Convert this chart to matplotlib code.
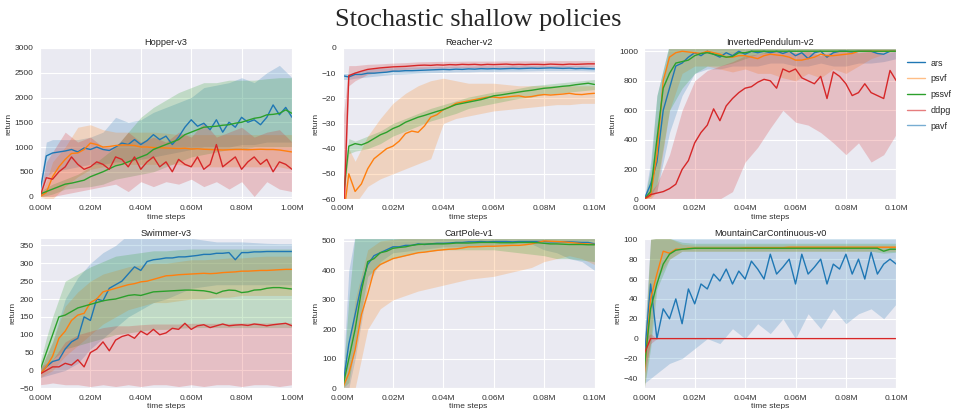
import numpy as np
import matplotlib
matplotlib.use("Agg")
import matplotlib.pyplot as plt
from matplotlib.lines import Line2D
from matplotlib.ticker import FuncFormatter
import seaborn as sns

sns.set_style("darkgrid")
plt.rcParams["font.family"] = ["Liberation Sans", "DejaVu Sans"]

# colours of the methods
c_blue = "#1f77b4"
c_orange = "#ff7f0e"
c_green = "#2ca02c"
c_red = "#d62728"

legend_labels = ["ars", "psvf", "pssvf", "ddpg", "pavf"]

# line grid: 41 points, band grid: denser at the start (fractions of the x range)
line_frac = np.linspace(0, 1, 41)
band_frac = np.array([0, 0.025] + [0.05 * i for i in range(1, 21)])

# ---------------- Hopper-v3 ----------------
hopper_pavf = [100, 820, 880, 900, 920, 950, 900, 980, 950, 1000, 950, 930, 1000, 1080, 1050, 1150, 1050, 1130, 1250, 1150,
               1220, 1050, 1200, 1400, 1550, 1420, 1480, 1350, 1550, 1300, 1500, 1400, 1600, 1500, 1550, 1450, 1600, 1850, 1650, 1800, 1600]
hopper_psvf = [0, 80, 400, 600, 750, 870, 880, 950, 1080, 1050, 1000, 1010, 1030, 1040, 1040, 1030, 1000, 1000, 990, 985,
               980, 975, 970, 975, 960, 965, 955, 950, 945, 940, 945, 950, 950, 945, 950, 955, 950, 950, 940, 920, 900]
hopper_pssvf = [50, 100, 150, 200, 250, 270, 300, 330, 400, 450, 500, 560, 620, 650, 700, 750, 800, 850, 950, 1000,
                1050, 1100, 1150, 1250, 1300, 1350, 1400, 1410, 1420, 1440, 1450, 1480, 1500, 1540, 1580, 1600, 1650, 1660, 1680, 1750, 1680]
hopper_ddpg = [0, 380, 350, 500, 600, 800, 650, 550, 600, 700, 650, 550, 800, 750, 600, 800, 550, 700, 800, 600,
               700, 500, 750, 650, 600, 800, 550, 650, 1050, 600, 700, 800, 550, 700, 800, 650, 750, 500, 700, 650, 550]
hopper_pavf_lo = [0, 400, 500, 550, 600, 650, 650, 700, 700, 750, 800, 850, 900, 950, 1000, 1000, 1000, 1050, 1050, 1100, 1100, 1100]
hopper_pavf_hi = [200, 1100, 1150, 1150, 1150, 1200, 1300, 1600, 1500, 1550, 1700, 1800, 1900, 2000, 2200, 2250, 2300, 2400, 2300, 2500, 2650, 2400]
hopper_psvf_lo = [0, -50, -50, 200, 400, 550, 600, 650, 650, 650, 650, 650, 650, 600, 600, 600, 600, 600, 600, 600, 600, 550]
hopper_psvf_hi = [50, 300, 700, 1000, 1400, 1450, 1350, 1300, 1300, 1300, 1300, 1280, 1250, 1250, 1250, 1250, 1250, 1250, 1250, 1250, 1250, 1250]
hopper_pssvf_lo = [0, 20, 50, 150, 180, 200, 250, 350, 400, 450, 500, 600, 700, 800, 850, 900, 950, 950, 1000, 1000, 1000, 1000]
hopper_pssvf_hi = [100, 180, 250, 350, 450, 600, 800, 1000, 1300, 1600, 1800, 1950, 2100, 2200, 2300, 2300, 2350, 2350, 2350, 2380, 2400, 2400]
hopper_ddpg_lo = [0, 0, 0, 50, 100, 150, 200, 250, 100, 300, 200, 300, 250, 350, 200, 300, 150, 300, 0, 300, 150, 100]
hopper_ddpg_hi = [0, 700, 900, 1300, 1100, 1200, 1000, 1000, 1300, 1100, 1200, 1100, 1300, 1200, 1500, 1200, 1300, 1400, 1200, 1300, 1350, 1100]

# ---------------- Reacher-v2 ----------------
reacher_pavf = [-11, -11.5, -10.5, -10.5, -10, -10, -9.8, -9.6, -9.2, -9.2, -9, -9, -8.9, -8.8, -8.7, -8.6, -8.5, -8.6, -8.4, -8.5,
                -8.3, -8.4, -8.2, -8.3, -8.2, -8.3, -8.2, -8.1, -8.2, -8.1, -8.0, -8.1, -8.0, -7.9, -8.0, -8.1, -8.0, -8.2, -8.1, -8.2, -8.3]
reacher_psvf = [-70, -50, -57, -54, -48, -44, -42, -40, -39, -37, -34, -33, -33.5, -31, -27.5, -26.5, -24.5, -23.5, -22, -21.5,
                -21, -20.5, -20, -19.5, -19.5, -19.8, -19.5, -19.2, -19, -19.5, -19.3, -18.8, -18.5, -18.7, -18.5, -18.3, -18, -18.4, -18.5, -18.2, -18]
reacher_pssvf = [-62, -39, -38, -38.5, -37.5, -36, -34.5, -33.5, -32, -31, -29.5, -28.5, -27.5, -26.8, -26, -25.2, -24.5, -23.5, -22.5, -22,
                 -21.5, -21, -20.5, -19.8, -19, -18.7, -18.3, -17.9, -17.5, -17.1, -16.8, -16.4, -16, -15.8, -15.5, -15.2, -15, -14.6, -14.3, -14, -14.5]
reacher_ddpg = [-80, -11, -10, -9.2, -8.5, -8.2, -7.9, -7.7, -7.5, -7.4, -7.3, -7.1, -6.9, -6.8, -6.9, -6.7, -6.8, -6.6, -6.7, -6.5,
                -6.6, -6.5, -6.7, -6.5, -6.6, -6.5, -6.4, -6.6, -6.5, -6.6, -6.5, -6.5, -6.6, -6.4, -6.5, -6.6, -6.4, -6.5, -6.4, -6.3, -6.3]
reacher_pavf_lo = [-12.5, -12.5, -12, -11.5, -11, -10.5, -10.3, -10, -9.8, -9.7, -9.5, -9.5, -9.3, -9.3, -9.2, -9.2, -9.1, -9, -9, -9, -9, -9.2]
reacher_pavf_hi = [-10, -10, -9.5, -8.5, -8, -7.8, -7.6, -7.5, -7.4, -7.3, -7.2, -7.2, -7.1, -7.1, -7, -7, -7, -7, -7, -7, -7, -7.2]
reacher_psvf_lo = [-75, -62, -62, -55, -52, -50, -48, -46, -44, -30, -28, -27, -26, -25, -24.5, -24, -23.5, -23, -22.5, -22.5, -22, -22]
reacher_psvf_hi = [-60, -40, -45, -35, -28, -22, -18, -15, -13, -12, -13, -14, -14, -14, -14.5, -15, -15, -15, -15, -15, -15, -15]
reacher_pssvf_lo = [-62, -42, -41, -40, -38, -35, -33, -31, -29, -27.5, -26, -24, -23, -22, -21, -20, -19.5, -18.5, -18, -17.5, -17, -16.5]
reacher_pssvf_hi = [-55, -36, -37, -35, -33, -30, -28, -26, -24, -22.5, -21, -19.5, -18.5, -17.5, -17, -16, -15, -14.5, -14, -13.5, -13, -12.5]
reacher_ddpg_lo = [-90, -15, -13, -10.5, -9.5, -9, -8.5, -8.2, -8, -8, -7.8, -7.8, -7.8, -7.7, -7.7, -7.7, -7.6, -7.6, -7.6, -7.5, -7.5, -7.4]
reacher_ddpg_hi = [-30, -7, -7, -6.5, -6.3, -6, -5.8, -5.5, -5.4, -5.3, -5.3, -5.2, -5.2, -5.2, -5.1, -5.1, -5.1, -5.1, -5, -5, -5, -5]

# ---------------- InvertedPendulum-v2 ----------------
ip_pavf = [0, 100, 250, 600, 750, 900, 920, 960, 990, 970, 1000, 980, 960, 990, 970, 1000, 980, 1000, 990, 1000,
           990, 1000, 985, 1000, 970, 990, 950, 990, 1000, 960, 990, 1000, 1000, 995, 1000, 1000, 1000, 985, 980, 1000, 1000]
ip_psvf = [0, 20, 300, 800, 960, 990, 1000, 995, 990, 985, 1000, 990, 980, 960, 960, 970, 970, 960, 950, 970,
           980, 975, 970, 960, 940, 940, 950, 960, 980, 970, 970, 975, 980, 985, 1000, 1000, 1000, 1000, 1000, 1000, 1000]
ip_pssvf = [0, 50, 400, 750, 850, 920, 930, 940, 970, 985, 990, 980, 970, 960, 965, 990, 990, 1000, 1000, 1000,
            1000, 1000, 1000, 1000, 1000, 1000, 1000, 1000, 1000, 1000, 1000, 1000, 1000, 1000, 1000, 1000, 1000, 1000, 1000, 1000, 1000]
ip_ddpg = [0, 30, 40, 50, 70, 100, 200, 260, 380, 450, 500, 610, 530, 630, 680, 720, 750, 760, 790, 810,
           800, 750, 880, 860, 880, 820, 800, 780, 830, 680, 860, 830, 780, 700, 720, 780, 720, 700, 680, 870, 800]
ip_pavf_lo = [0, 20, 50, 450, 700, 850, 880, 880, 900, 900, 900, 920, 920, 900, 900, 920, 900, 900, 920, 920, 930, 950]
ip_pavf_hi = [0, 250, 700, 1050, 1050, 1050, 1050, 1030, 1030, 1030, 1030, 1030, 1030, 1030, 1030, 1030, 1030, 1030, 1030, 1030, 1030, 1030]
ip_psvf_lo = [0, 0, 50, 600, 850, 900, 900, 880, 860, 880, 850, 850, 820, 800, 850, 820, 880, 850, 900, 950, 980, 1000]
ip_psvf_hi = [0, 100, 500, 1050, 1050, 1050, 1050, 1050, 1050, 1050, 1050, 1050, 1050, 1050, 1050, 1050, 1050, 1050, 1050, 1050, 1050, 1050]
ip_pssvf_lo = [0, 20, 100, 600, 750, 850, 900, 900, 920, 950, 980, 990, 1000, 1000, 1000, 1000, 1000, 1000, 1000, 1000, 1000, 1000]
ip_pssvf_hi = [0, 200, 700, 1050, 1050, 1050, 1050, 1050, 1050, 1050, 1050, 1050, 1050, 1050, 1050, 1050, 1050, 1050, 1050, 1050, 1050, 1050]
ip_ddpg_lo = [0, 0, 0, 0, 0, 0, 0, 0, 50, 250, 350, 480, 600, 520, 500, 450, 380, 300, 380, 250, 300, 440]
ip_ddpg_hi = [0, 50, 100, 300, 600, 800, 870, 900, 930, 970, 980, 1000, 1000, 990, 1000, 970, 1000, 1000, 990, 1000, 980, 1000]

# ---------------- Swimmer-v3 ----------------
sw_pavf = [-10, 10, 25, 30, 60, 80, 90, 150, 140, 200, 195, 230, 240, 250, 270, 290, 280, 305, 310, 312,
           315, 315, 318, 318, 320, 322, 325, 325, 328, 328, 330, 310, 330, 330, 332, 332, 333, 333, 333, 333, 333]
sw_psvf = [-10, 10, 40, 90, 110, 140, 155, 160, 190, 200, 220, 225, 230, 235, 240, 243, 248, 250, 255, 260,
           265, 266, 268, 269, 270, 271, 272, 271, 272, 274, 275, 276, 278, 278, 279, 280, 280, 281, 282, 283, 283]
sw_pssvf = [0, 50, 100, 150, 155, 165, 175, 180, 185, 190, 195, 198, 200, 205, 210, 212, 210, 215, 220, 221,
            222, 223, 224, 225, 225, 224, 223, 220, 215, 222, 225, 224, 218, 220, 225, 226, 230, 232, 232, 230, 228]
sw_ddpg = [-10, 0, 10, 10, 20, 15, 30, 10, 50, 60, 80, 55, 85, 95, 100, 90, 110, 100, 115, 100,
           105, 118, 115, 132, 115, 125, 128, 120, 125, 130, 125, 127, 128, 126, 130, 128, 125, 128, 130, 132, 125]
sw_pavf_lo = [-20, -15, -10, 0, 20, 60, 90, 120, 150, 170, 190, 200, 215, 230, 235, 240, 240, 240, 240, 240, 240, 240]
sw_pavf_hi = [0, 40, 80, 200, 260, 300, 330, 350, 380, 380, 380, 380, 375, 370, 365, 360, 360, 360, 358, 356, 355, 355]
sw_psvf_lo = [-20, -10, 0, 40, 70, 100, 130, 150, 170, 180, 190, 190, 195, 200, 200, 205, 205, 210, 210, 210, 210, 210]
sw_psvf_hi = [0, 40, 80, 180, 220, 250, 270, 280, 290, 295, 300, 300, 305, 310, 310, 312, 315, 315, 318, 320, 320, 320]
sw_pssvf_lo = [-10, 10, 30, 60, 70, 80, 90, 100, 105, 110, 115, 115, 118, 120, 120, 120, 120, 120, 120, 120, 120, 120]
sw_pssvf_hi = [20, 90, 150, 250, 270, 290, 305, 320, 325, 330, 335, 335, 338, 340, 340, 340, 340, 340, 340, 340, 340, 340]
sw_ddpg_lo = [-40, -38, -35, -40, -40, -45, -40, -45, -40, -45, -40, -40, -45, -40, -45, -40, -40, -45, -40, -40, -45, -40]
sw_ddpg_hi = [10, 20, 30, 80, 100, 110, 120, 125, 125, 128, 130, 130, 130, 132, 132, 132, 132, 133, 133, 133, 133, 133]

# ---------------- CartPole-v1 ----------------
cp_pavf = [0, 150, 250, 350, 420, 450, 460, 470, 480, 480, 485, 485, 490, 488, 490, 492, 492, 493, 495, 495,
           497, 497, 498, 497, 498, 498, 498, 497, 498, 498, 498, 498, 498, 497, 497, 497, 497, 496, 495, 495, 490]
cp_psvf = [0, 50, 130, 250, 320, 400, 420, 430, 440, 445, 450, 455, 460, 462, 465, 468, 470, 472, 473, 476,
           480, 480, 481, 482, 482, 483, 484, 485, 485, 487, 490, 495, 500, 499, 498, 497, 495, 493, 491, 490, 488]
cp_pssvf = [0, 100, 200, 330, 430, 440, 460, 465, 475, 478, 480, 485, 488, 489, 490, 490, 490, 491, 493, 493,
            493, 494, 495, 495, 495, 494, 494, 494, 495, 495, 495, 494, 492, 490, 490, 489, 488, 488, 488, 487, 487]
cp_pavf_lo = [0, 0, 100, 350, 430, 460, 465, 470, 475, 480, 480, 480, 485, 485, 488, 490, 490, 470, 460, 440, 430, 400]
cp_pavf_hi = [10, 400, 520, 520, 520, 520, 520, 520, 520, 520, 520, 520, 520, 520, 520, 520, 520, 520, 520, 520, 520, 520]
cp_psvf_lo = [0, 0, 0, 200, 270, 300, 315, 330, 340, 350, 360, 370, 375, 380, 390, 400, 410, 430, 440, 450, 440, 420]
cp_psvf_hi = [10, 120, 300, 470, 500, 505, 510, 510, 510, 510, 510, 510, 510, 510, 510, 510, 510, 510, 510, 510, 510, 510]
cp_pssvf_lo = [0, 20, 150, 380, 420, 440, 450, 460, 465, 470, 470, 470, 470, 470, 465, 460, 455, 450, 440, 440, 435, 430]
cp_pssvf_hi = [10, 300, 520, 520, 520, 520, 520, 520, 520, 520, 520, 520, 520, 520, 520, 520, 520, 520, 520, 520, 520, 520]

# ---------------- MountainCarContinuous-v0 ----------------
mc_pavf = [-20, 55, 0, 30, 20, 40, 15, 50, 35, 55, 50, 65, 58, 70, 55, 68, 60, 78, 70, 60,
           85, 65, 72, 80, 55, 85, 65, 72, 80, 55, 75, 70, 85, 65, 80, 60, 87, 65, 75, 80, 75]
mc_psvf = [-35, 40, 65, 88, 86, 90, 90, 91, 91, 91, 91, 91, 91, 91, 91, 91, 91.5, 91.5, 91.5, 91.5,
           91.5, 91.5, 91.5, 92, 92, 92, 92, 92, 92, 92, 92, 92, 92, 92, 92, 92, 92, 92, 92, 92, 92]
mc_pssvf = [-30, 30, 55, 75, 85, 89, 90, 90.5, 91, 91, 91, 91, 91, 91, 91, 91, 91, 91, 91, 91,
            91, 91, 91, 91, 91, 91, 91, 91, 91, 91, 91, 91, 91, 91, 91, 91, 91, 91, 88, 90, 90]
mc_ddpg = [-15, 0, 0, 0, 0, 0, 0, 0, 0, 0, 0, 0, 0, 0, 0, 0, 0, 0, 0, 0,
           0, 0, 0, 0, 0, 0, 0, 0, 0, 0, 0, 0, 0, 0, 0, 0, 0, 0, 0, 0, 0]
mc_pavf_lo = [-45, -40, -35, -25, -20, -10, 0, -5, 10, 0, 15, 5, 20, 0, 25, 10, 30, 15, 25, 30, 20, 35]
mc_pavf_hi = [0, 100, 101, 101, 101, 101, 101, 101, 101, 101, 101, 101, 101, 101, 101, 101, 101, 101, 101, 101, 101, 101]
mc_psvf_lo = [-50, 0, 60, 80, 88, 88, 88, 88, 88, 88, 88, 88, 88, 88, 88, 88, 88, 88, 88, 88, 88, 88]
mc_psvf_hi = [-20, 100, 101, 101, 95, 94, 94, 94, 94, 94, 94, 94, 94, 94, 94, 94, 94, 94, 94, 94, 94, 94]
mc_pssvf_lo = [-50, -10, 50, 80, 88, 88, 88, 88, 88, 88, 88, 88, 88, 88, 88, 88, 88, 88, 88, 88, 86, 87]
mc_pssvf_hi = [-10, 100, 101, 101, 97, 96, 96, 96, 96, 96, 96, 96, 96, 96, 96, 96, 96, 96, 96, 96, 96, 96]
mc_ddpg_lo = [-35, -5, 0, 0, 0, 0, 0, 0, 0, 0, 0, 0, 0, 0, 0, 0, 0, 0, 0, 0, 0, 0]
mc_ddpg_hi = [0, 5, 0, 0, 0, 0, 0, 0, 0, 0, 0, 0, 0, 0, 0, 0, 0, 0, 0, 0, 0, 0]


panels = [
    ("Hopper-v3", 1.0, (-50, 3000), np.arange(0, 3001, 500),
     [(hopper_pavf, hopper_pavf_lo, hopper_pavf_hi, c_blue),
      (hopper_psvf, hopper_psvf_lo, hopper_psvf_hi, c_orange),
      (hopper_pssvf, hopper_pssvf_lo, hopper_pssvf_hi, c_green),
      (hopper_ddpg, hopper_ddpg_lo, hopper_ddpg_hi, c_red)]),
    ("Reacher-v2", 0.1, (-60, 0), np.arange(-60, 1, 10),
     [(reacher_pavf, reacher_pavf_lo, reacher_pavf_hi, c_blue),
      (reacher_psvf, reacher_psvf_lo, reacher_psvf_hi, c_orange),
      (reacher_pssvf, reacher_pssvf_lo, reacher_pssvf_hi, c_green),
      (reacher_ddpg, reacher_ddpg_lo, reacher_ddpg_hi, c_red)]),
    ("InvertedPendulum-v2", 0.1, (0, 1022), np.arange(0, 1001, 200),
     [(ip_pavf, ip_pavf_lo, ip_pavf_hi, c_blue),
      (ip_psvf, ip_psvf_lo, ip_psvf_hi, c_orange),
      (ip_pssvf, ip_pssvf_lo, ip_pssvf_hi, c_green),
      (ip_ddpg, ip_ddpg_lo, ip_ddpg_hi, c_red)]),
    ("Swimmer-v3", 1.0, (-50, 370), np.arange(-50, 351, 50),
     [(sw_pavf, sw_pavf_lo, sw_pavf_hi, c_blue),
      (sw_psvf, sw_psvf_lo, sw_psvf_hi, c_orange),
      (sw_pssvf, sw_pssvf_lo, sw_pssvf_hi, c_green),
      (sw_ddpg, sw_ddpg_lo, sw_ddpg_hi, c_red)]),
    ("CartPole-v1", 0.1, (0, 509), np.arange(0, 501, 100),
     [(cp_pavf, cp_pavf_lo, cp_pavf_hi, c_blue),
      (cp_psvf, cp_psvf_lo, cp_psvf_hi, c_orange),
      (cp_pssvf, cp_pssvf_lo, cp_pssvf_hi, c_green)]),
    ("MountainCarContinuous-v0", 0.1, (-50, 101), np.arange(-40, 101, 20),
     [(mc_pavf, mc_pavf_lo, mc_pavf_hi, c_blue),
      (mc_psvf, mc_psvf_lo, mc_psvf_hi, c_orange),
      (mc_pssvf, mc_pssvf_lo, mc_pssvf_hi, c_green),
      (mc_ddpg, mc_ddpg_lo, mc_ddpg_hi, c_red)]),
]

W, H = 956, 409
fig = plt.figure(figsize=(W / 100, H / 100), dpi=100, facecolor="white")

col_left = [40, 342.5, 644.3]
row_top_bottom = [(48, 199), (238.3, 388.3)]
ax_w = 252

tick_size = 6.0
fmt_m = FuncFormatter(lambda v, p: f"{v:.2f}M")

for i, (title, xmax, ylim, yticks, series) in enumerate(panels):
    r, c = divmod(i, 3)
    top, bot = row_top_bottom[r]
    ax = fig.add_axes([col_left[c] / W, (H - bot) / H, ax_w / W, (bot - top) / H])
    xl = line_frac * xmax
    xb = band_frac * xmax
    for vals, lo, hi, col in series:
        ax.fill_between(xb, lo, hi, color=col, alpha=0.22, linewidth=0)
    for vals, lo, hi, col in series:
        ax.plot(xl, vals, color=col, linewidth=1.0)
    ax.set_xlim(0, xmax)
    ax.set_ylim(*ylim)
    ax.set_yticks(yticks)
    ax.set_xticks(np.linspace(0, xmax, 6))
    ax.xaxis.set_major_formatter(fmt_m)
    ax.tick_params(labelsize=tick_size, pad=1, colors="#333333")
    ax.set_title(title, fontsize=6.6, pad=2, color="#222222")
    ax.set_xlabel("time steps", fontsize=tick_size, labelpad=1, color="#333333")
    ax.set_ylabel("return", fontsize=tick_size, labelpad=2, color="#333333")

fig.text(0.5, 0.95, "Stochastic shallow policies", ha="center", va="center",
         fontsize=19, family="Liberation Serif")

handles = [Line2D([], [], color=c_blue, lw=1.0),
           Line2D([], [], color=c_orange, lw=1.0, alpha=0.5),
           Line2D([], [], color=c_green, lw=1.0),
           Line2D([], [], color=c_red, lw=1.0, alpha=0.6),
           Line2D([], [], color=c_blue, lw=1.0, alpha=0.6)]
fig.legend(handles, legend_labels, loc="upper left", bbox_to_anchor=(0.944, 0.868),
           frameon=False, fontsize=6.5, handlelength=2.0, handletextpad=0.6,
           labelspacing=0.75, borderpad=0)

fig.savefig("out.png", dpi=100, facecolor="white")
